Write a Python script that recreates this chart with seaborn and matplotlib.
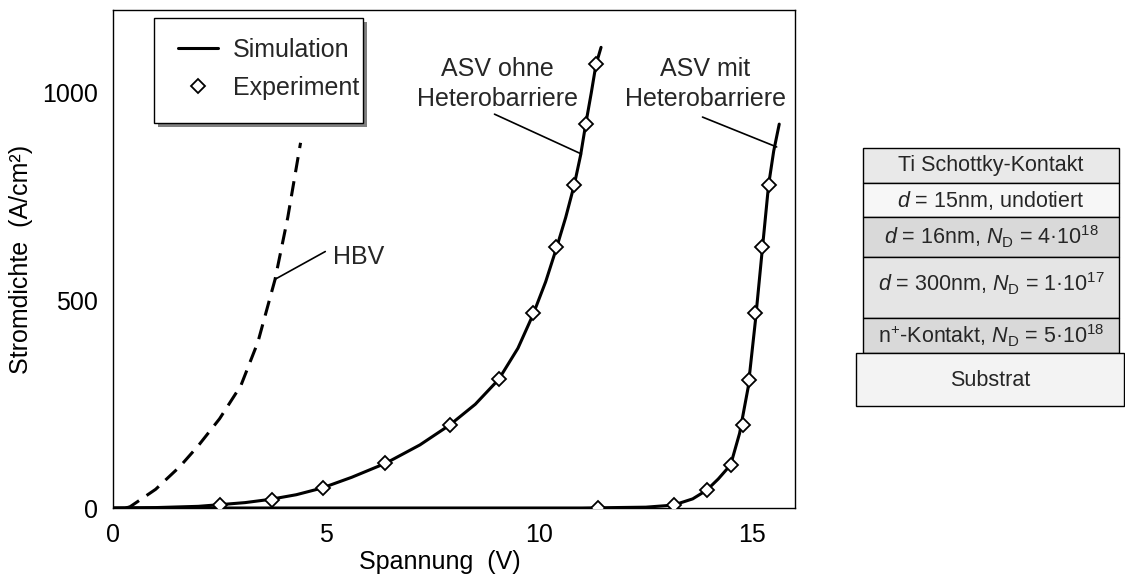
import matplotlib
matplotlib.use("Agg")
import matplotlib.pyplot as plt
from matplotlib.lines import Line2D
from matplotlib.patches import Rectangle
import pandas as pd
import seaborn as sns

# ---- data ---------------------------------------------------------------
# HBV simulation (dashed)
hbv_v = [0.3, 0.4, 1.0, 1.57, 2.0, 2.5, 3.0, 3.4, 3.8, 4.1, 4.4]
hbv_j = [0, 3, 45, 100, 150, 215, 295, 400, 550, 700, 880]

# ASV without hetero barrier: simulation and measurement
ohne_sim_v = [0, 1.0, 2.0, 2.5, 3.1, 3.7, 4.3, 4.9, 5.6, 6.4, 7.2, 7.9, 8.5,
              9.05, 9.5, 9.85, 10.15, 10.4, 10.62, 10.82, 10.97, 11.09,
              11.22, 11.33, 11.45]
ohne_sim_j = [0, 1, 4, 8, 13, 21, 32, 48, 74, 108, 152, 200, 250, 310, 385,
              465, 545, 625, 700, 778, 850, 925, 1000, 1068, 1110]
ohne_exp_v = [2.5, 3.72, 4.92, 6.38, 7.9, 9.05, 9.85, 10.4, 10.82, 11.09, 11.33]
ohne_exp_j = [7, 19, 47, 108, 200, 310, 470, 628, 778, 925, 1071]

# ASV with hetero barrier: simulation and measurement
mit_sim_v = [0, 4, 8, 11, 12.5, 13.15, 13.6, 13.93, 14.2, 14.49, 14.7,
             14.9, 15.07, 15.23, 15.38, 15.5, 15.63]
mit_sim_j = [0, 0, 0, 0, 2, 7, 22, 43, 70, 104, 180, 290, 450, 620, 778,
             860, 925]
mit_exp_v = [11.39, 13.15, 13.93, 14.49, 14.77, 14.93, 15.07, 15.23, 15.38]
mit_exp_j = [0, 7, 43, 104, 200, 308, 470, 630, 778]

x_ticks = [0, 5, 10, 15]
y_ticks = [0, 500, 1000]

# layer stack of the device (top to bottom)
layer_labels = [
    "Ti Schottky-Kontakt",
    r"$d$ = 15nm, undotiert",
    r"$d$ = 16nm, $N_\mathrm{D}$ = 4·10$^{18}$",
    r"$d$ = 300nm, $N_\mathrm{D}$ = 1·10$^{17}$",
    r"n$^{+}$-Kontakt, $N_\mathrm{D}$ = 5·10$^{18}$",
    "Substrat",
]

# ---- style --------------------------------------------------------------
sns.set_style("white")
plt.rcParams["font.family"] = ["Liberation Sans", "DejaVu Sans"]
plt.rcParams["mathtext.fontset"] = "custom"
plt.rcParams["mathtext.rm"] = "Liberation Sans"
plt.rcParams["mathtext.it"] = "Liberation Sans:italic"
plt.rcParams["mathtext.bf"] = "Liberation Sans:bold"

FS = 18
LW = 2.2

fig = plt.figure(figsize=(11.25, 5.83), dpi=100)
ax = fig.add_axes([113 / 1125, 75 / 583, 682 / 1125, 498 / 583])

df_hbv = pd.DataFrame({"V": hbv_v, "J": hbv_j})
df_ohne = pd.DataFrame({"V": ohne_sim_v, "J": ohne_sim_j})
df_mit = pd.DataFrame({"V": mit_sim_v, "J": mit_sim_j})
df_exp = pd.DataFrame({"V": ohne_exp_v + mit_exp_v, "J": ohne_exp_j + mit_exp_j})

sns.lineplot(data=df_hbv, x="V", y="J", sort=False, ax=ax, color="black",
             lw=LW, linestyle=(0, (5, 3)), zorder=3)
sns.lineplot(data=df_ohne, x="V", y="J", sort=False, ax=ax, color="black",
             lw=LW, zorder=3)
sns.lineplot(data=df_mit, x="V", y="J", sort=False, ax=ax, color="black",
             lw=LW, zorder=3)
ax.plot(df_exp["V"], df_exp["J"], linestyle="none", marker="D", ms=7.5,
        mfc="white", mec="black", mew=1.3, zorder=4)

ax.set_xlim(0, 16)
ax.set_ylim(0, 1200)
ax.set_xticks(x_ticks)
ax.set_yticks(y_ticks)
ax.tick_params(axis="both", direction="in", length=9.5, width=1.0,
               labelsize=FS, color="black", labelcolor="black")
ax.tick_params(axis="x", pad=11)
ax.tick_params(axis="y", pad=11)
for sp in ax.spines.values():
    sp.set_color("black")
    sp.set_linewidth(1.0)

ax.set_xlabel("Spannung  (V)", fontsize=FS, color="black")
ax.set_ylabel("Stromdichte  (A/cm²)", fontsize=FS, color="black")
ax.xaxis.set_label_coords(0.479, -0.084)
ax.yaxis.set_label_coords(-0.117, 0.5)

# legend: plain box with a grey drop shadow, entries placed inside it
bx0, bx1 = (154 - 113) / 682, (363 - 113) / 682
by0, by1 = (508 - 123) / 498, (508 - 18) / 498
sx, sy = 4 / 682, 4 / 498
ax.add_patch(Rectangle((bx0 + sx, by0 - sy), bx1 - bx0, by1 - by0,
                       transform=ax.transAxes, facecolor="0.5",
                       edgecolor="none", zorder=5))
ax.add_patch(Rectangle((bx0, by0), bx1 - bx0, by1 - by0,
                       transform=ax.transAxes, facecolor="white",
                       edgecolor="black", lw=1.0, zorder=5.5))
handles = [
    Line2D([], [], color="black", lw=LW),
    Line2D([], [], linestyle="none", marker="D", ms=7.5, mfc="white",
           mec="black", mew=1.3),
]
leg = ax.legend(handles, ["Simulation", "Experiment"], loc="upper left",
                bbox_to_anchor=((178 - 113) / 682, (508 - 38) / 498),
                borderaxespad=0, borderpad=0, fontsize=FS, frameon=False,
                handlelength=1.6, handletextpad=0.6, labelspacing=0.55,
                numpoints=1)
leg.set_zorder(6)

# curve annotations with leader lines
ax.text(5.15, 605, "HBV", fontsize=FS, ha="left", va="center")
ax.plot([3.80, 4.98], [551, 618], color="black", lw=1.2)

ax.text(9.01, 1022, "ASV ohne\nHeterobarriere", fontsize=FS, ha="center",
        va="center", linespacing=1.3)
ax.plot([8.95, 10.99], [949, 853], color="black", lw=1.2)

ax.text(13.9, 1022, "ASV mit\nHeterobarriere", fontsize=FS, ha="center",
        va="center", linespacing=1.3)
ax.plot([13.83, 15.57], [942, 870], color="black", lw=1.2)

# ---- layer stack --------------------------------------------------------
lay = fig.add_axes([0, 0, 1, 1], zorder=-1)
lay.set_xlim(0, 1125)
lay.set_ylim(583, 0)
lay.axis("off")

edges = [148, 183, 217, 257, 318, 353]
fills = ["#e9e9e9", "#f7f7f7", "#d9d9d9", "#e5e5e5", "#d9d9d9"]
text_y = [165.5, 200, 237, 284, 335.5]
for i, fc in enumerate(fills):
    lay.add_patch(Rectangle((863, edges[i]), 1119 - 863, edges[i + 1] - edges[i],
                            facecolor=fc, edgecolor="black", lw=1.0))
    lay.text(991, text_y[i], layer_labels[i], fontsize=15.5, ha="center",
             va="center")
lay.add_patch(Rectangle((856, 353), 1124 - 856, 406 - 353, facecolor="#f3f3f3",
                        edgecolor="black", lw=1.0))
lay.text(990, 380, layer_labels[5], fontsize=15.5, ha="center", va="center")

fig.savefig("out.png", dpi=100, facecolor="white")
